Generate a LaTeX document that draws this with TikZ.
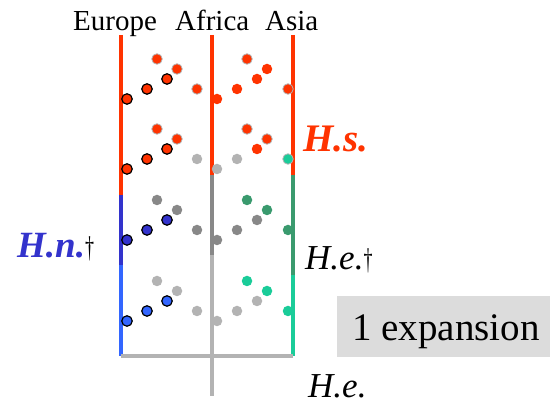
\documentclass[tikz,border=0pt]{standalone}
\usepackage{graphicx}
\usepackage{fontspec}
\setmainfont{Liberation Serif}
\definecolor{cred}{HTML}{FF3300}
\definecolor{cdblue}{HTML}{3333CC}
\definecolor{clblue}{HTML}{3366FF}
\definecolor{cdgray}{HTML}{888888}
\definecolor{clgray}{HTML}{B3B3B3}
\definecolor{cgreen}{HTML}{3A9A6E}
\definecolor{cteal}{HTML}{1ACC99}
\definecolor{cbox}{HTML}{DCDCDC}
\newcommand{\mydag}{{\fontsize{30}{34}\selectfont\normalfont\color{black}\scalebox{0.6}[1]{†}}}
\begin{document}
\begin{tikzpicture}[x=1pt,y=-1pt,
  lineseg/.style={line width=4pt},
  dotbase/.style={circle,minimum size=10.5pt,inner sep=0pt},
  ol/.style={dotbase,draw=clgray,line width=0.8pt},
  pl/.style={dotbase,draw=none},
  bk/.style={dotbase,draw=black,line width=1.2pt},
  lbl/.style={anchor=base west,inner sep=0pt},
]
\useasboundingbox (0,0) rectangle (550,406);
% coordinates
\coordinate (e0) at (121,35);  \coordinate (e1) at (121,195);
\coordinate (e2) at (121,265); \coordinate (e3) at (121,356);
\coordinate (f0) at (212,35);  \coordinate (f1) at (212,175);
\coordinate (f2) at (212,255); \coordinate (f3) at (212,396);
\coordinate (s0) at (293,35);  \coordinate (s1) at (293,175);
\coordinate (s2) at (293,275); \coordinate (s3) at (293,356);
% vertical lines
\draw[lineseg,cred] (e0) -- (e1);
\draw[lineseg,cdblue] (e1) -- (e2);
\draw[lineseg,clblue] (e2) -- (e3);
\draw[lineseg,cred] (f0) -- (f1);
\draw[lineseg,cdgray] (f1) -- (f2);
\draw[lineseg,clgray] (f2) -- (f3);
\draw[lineseg,cred] (s0) -- (s1);
\draw[lineseg,cgreen] (s1) -- (s2);
\draw[lineseg,cteal] (s2) -- (s3);
\draw[lineseg,clgray] (e3) -- (s3);
% band 1
\node[ol,fill=cred] (a1) at (157,59) {};
\node[ol,fill=cred] (b1) at (177,69) {};
\node[bk,fill=cred] (c1) at (167,79) {};
\node[bk,fill=cred] (d1) at (147,89) {};
\node[bk,fill=cred] (e1d) at (127,99) {};
\node[ol,fill=cred] (f1d) at (197,89) {};
\node[pl,fill=cred] (g1) at (217,99) {};
\node[pl,fill=cred] (h1) at (237,89) {};
\node[pl,fill=cred] (i1) at (257,79) {};
\node[ol,fill=cred] (j1) at (247,59) {};
\node[pl,fill=cred] (k1) at (267,69) {};
\node[ol,fill=cred] (l1) at (288,89) {};
% band 2
\node[ol,fill=cred] (a2) at (157,129) {};
\node[ol,fill=cred] (b2) at (177,139) {};
\node[bk,fill=cred] (c2) at (167,149) {};
\node[bk,fill=cred] (d2) at (147,159) {};
\node[bk,fill=cred] (e2d) at (127,169) {};
\node[pl,fill=clgray] (f2d) at (197,159) {};
\node[pl,fill=clgray] (g2) at (217,169) {};
\node[pl,fill=clgray] (h2) at (237,159) {};
\node[pl,fill=cred] (i2) at (257,149) {};
\node[ol,fill=cred] (j2) at (247,129) {};
\node[ol,fill=cred] (k2) at (267,139) {};
\node[ol,fill=cteal] (l2) at (288,159) {};
% band 3
\node[pl,fill=cdgray] (a3) at (157,200) {};
\node[pl,fill=cdgray] (b3) at (177,210) {};
\node[bk,fill=cdblue] (c3) at (167,220) {};
\node[bk,fill=cdblue] (d3) at (147,230) {};
\node[bk,fill=cdblue] (e3d) at (127,240) {};
\node[pl,fill=cdgray] (f3d) at (197,230) {};
\node[pl,fill=cdgray] (g3) at (217,240) {};
\node[pl,fill=cdgray] (h3) at (237,230) {};
\node[pl,fill=cdgray] (i3) at (257,220) {};
\node[pl,fill=cgreen] (j3) at (247,200) {};
\node[pl,fill=cgreen] (k3) at (267,210) {};
\node[pl,fill=cgreen] (l3) at (288,230) {};
% band 4
\node[pl,fill=clgray] (a4) at (157,281) {};
\node[pl,fill=clgray] (b4) at (177,291) {};
\node[bk,fill=clblue] (c4) at (167,301) {};
\node[bk,fill=clblue] (d4) at (147,311) {};
\node[bk,fill=clblue] (e4d) at (127,321) {};
\node[pl,fill=clgray] (f4d) at (197,311) {};
\node[pl,fill=clgray] (g4) at (217,321) {};
\node[pl,fill=clgray] (h4) at (237,311) {};
\node[pl,fill=clgray] (i4) at (257,301) {};
\node[pl,fill=cteal] (j4) at (247,281) {};
\node[pl,fill=cteal] (k4) at (267,291) {};
\node[pl,fill=cteal] (l4) at (288,311) {};
% labels
\node[lbl,font=\fontsize{29}{34}\selectfont] (eu) at (73,31) {Europe};
\node[lbl,font=\fontsize{29}{34}\selectfont] (af) at (175,31) {Africa};
\node[lbl,font=\fontsize{29}{34}\selectfont] (as) at (265,31) {Asia};
\node[lbl,font=\fontsize{39}{46}\selectfont\bfseries\itshape,text=cred] (hs) at (303,152) {H.s.};
\node[lbl,font=\fontsize{37}{44}\selectfont\bfseries\itshape,text=cdblue] (hn) at (17,258) {H.n.\mydag};
\node[lbl,font=\fontsize{35}{42}\selectfont\itshape] (he1) at (305,270) {H.e.\mydag};
\node[fill=cbox,inner sep=0pt,minimum width=213pt,minimum height=61pt,anchor=north west] (box) at (337,296) {};
\node[lbl,font=\fontsize{39}{46}\selectfont] (exp) at (352,341) {1 expansion};
\node[lbl,font=\fontsize{35}{42}\selectfont\itshape] (he2) at (308,398) {H.e.};
\end{tikzpicture}
\end{document}
